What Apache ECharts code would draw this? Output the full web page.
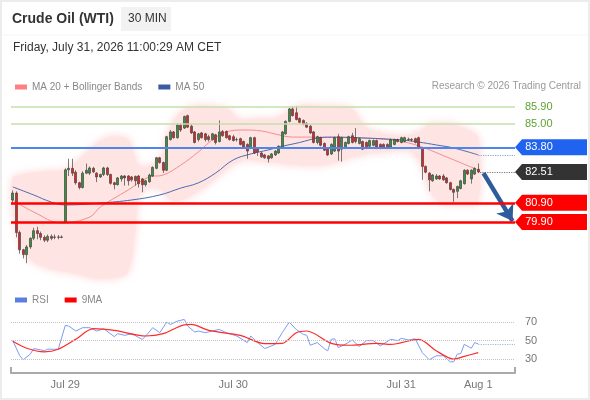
<!DOCTYPE html>
<html>
<head>
<meta charset="utf-8">
<title>Crude Oil (WTI)</title>
<script src="https://cdn.jsdelivr.net/npm/echarts@6/dist/echarts.min.js"></script>
<style>
html, body { margin: 0; padding: 0; background: #fff; }
#chart { width: 590px; height: 400px; }
</style>
</head>
<body>
<div id="chart"></div>
<script>
// 30 min candles, Jul 28 16:30 -> Jul 31 11:00 : [open, close, low, high]
var candles = [
    [81.05,81.41,80.9,81.55],[81.41,79.35,79.1,81.5],[79.35,78.45,78.25,79.45],[78.45,78.2,78.0,78.5],
    [78.2,78.6,77.75,78.7],[78.6,79.05,78.5,79.1],[79.05,79.45,78.95,79.6],[79.45,79.3,79.0,79.65],
    [79.3,79.1,78.95,79.4],[79.1,78.95,78.85,79.2],[78.95,79.15,78.85,79.25],[79.15,79.05,78.95,79.25],
    [79.1,79.12,79.0,79.25],[79.12,79.1,79.0,79.22],[79.1,79.12,79.05,79.2],[79.9,82.62,79.85,82.7],
    [82.62,82.7,82.3,83.2],[82.7,82.45,82.3,83.2],[82.5,81.95,81.85,82.6],[81.95,81.7,81.6,82.0],
    [81.7,82.45,81.65,82.55],[82.45,82.6,82.4,82.95],[82.45,82.72,82.35,82.8],[82.7,82.52,82.45,82.78],
    [82.45,82.25,81.98,82.5],[82.25,82.38,82.2,82.42],[82.38,82.72,82.3,82.78],[82.72,82.38,82.3,82.78],
    [82.38,81.92,81.85,82.42],[81.95,81.85,81.6,82.0],[81.85,82.2,81.8,82.25],[82.15,82.3,82.0,82.35],
    [82.3,82.2,81.8,82.35],[82.3,82.05,81.8,82.35],[82.25,82.1,82.0,82.3],[82.28,82.05,81.8,82.32],
    [82.3,81.9,81.7,82.35],[82.15,81.85,81.45,82.2],[81.85,82.05,81.75,82.1],[82.0,82.35,81.95,82.42],
    [82.3,82.75,82.25,82.8],[82.7,83.25,82.65,83.3],[83.25,83.0,82.95,83.3],[83.0,82.6,82.45,83.05],
    [82.6,84.35,82.55,84.4],[84.2,84.6,84.15,84.7],[84.6,84.3,84.25,84.65],[84.3,84.96,84.25,85.05],
    [84.95,84.7,84.6,85.05],[84.8,85.4,84.75,85.45],[85.45,84.85,84.8,85.5],[84.9,84.55,84.5,85.0],
    [84.6,84.05,84.0,84.65],[84.2,84.5,84.1,84.55],[84.55,84.3,84.25,84.6],[84.5,84.2,84.1,84.55],
    [84.35,84.2,84.1,84.45],[84.2,84.5,84.15,84.55],[84.45,84.05,83.95,84.5],[84.1,84.6,84.05,85.2],
    [84.62,84.4,84.35,84.7],[84.62,84.3,84.25,84.68],[84.4,84.2,84.15,84.45],[84.35,84.15,84.1,84.45],
    [84.2,84.2,84.1,84.3],[84.25,83.95,83.9,84.3],[84.1,83.8,83.75,84.15],[83.95,83.6,83.2,84.0],
    [83.75,84.3,83.7,84.35],[84.3,83.5,83.45,84.35],[83.75,83.55,83.35,83.8],[83.5,83.3,83.25,83.55],
    [83.4,83.25,83.2,83.45],[83.35,83.2,83.0,83.4],[83.25,83.45,83.2,83.5],[83.4,83.6,83.35,83.65],
    [83.5,83.85,83.45,83.9],[83.8,84.6,83.75,84.65],[84.5,85.15,84.45,85.2],[85.15,85.8,85.1,85.85],
    [85.8,85.45,85.4,85.95],[85.6,85.25,85.2,85.95],[85.3,85.1,85.05,85.35],[85.2,85.0,84.95,85.25],
    [85.05,84.85,84.8,85.1],[84.9,84.55,84.5,84.95],[84.6,84.05,84.0,84.65],[84.05,84.35,83.95,84.4],
    [84.3,83.9,83.85,84.35],[84.0,83.65,83.6,84.05],[83.75,83.4,83.35,83.8],[83.45,83.95,83.4,84.0],
    [83.6,84.3,83.55,84.35],[84.35,83.6,83.1,84.5],[83.7,84.3,83.05,84.35],[83.75,84.05,83.7,84.1],
    [84.0,84.35,83.95,84.4],[84.4,84.05,84.0,84.55],[84.3,84.1,84.0,84.8],[84.0,84.25,83.95,84.3],
    [84.1,83.7,83.65,84.15],[84.05,83.75,83.7,84.1],[83.85,84.15,83.8,84.2],[83.9,84.15,83.85,84.2],
    [84.15,83.75,83.7,84.2],[83.95,83.8,83.7,84.0],[83.95,83.8,83.75,84.0],[83.95,83.75,83.7,84.0],
    [83.8,84.2,83.75,84.25],[83.95,84.2,83.9,84.25],[84.2,84.1,84.05,84.25],[84.05,84.3,84.0,84.35],
    [84.1,84.3,84.05,84.35],[84.2,84.22,84.15,84.3],[84.2,84.18,84.1,84.28],[84.25,84.05,84.0,84.3],
    [84.3,83.75,83.7,84.35],[83.75,82.8,82.1,83.8],[82.8,82.5,82.45,82.85],[82.45,82.1,81.5,82.5],
    [82.05,82.35,82.0,82.4],[82.15,82.3,82.1,82.4],[82.3,82.15,82.1,82.35],[82.3,82.1,82.05,82.4],
    [82.2,81.95,81.9,82.25],[81.95,81.6,81.55,82.0],[81.6,81.45,80.95,81.65],[81.5,81.75,81.15,81.8],
    [81.65,82.05,81.6,82.1],[81.9,82.6,81.85,82.65],[82.6,82.4,82.35,82.65],[82.15,82.6,81.9,82.65],
    [82.4,82.7,82.35,82.75],[82.65,82.51,82.45,82.95]
];

var ma20X = [0,6,14,22,25,33,39,43,48,53,57,61,66,71,75,80,85,90,100,110,116,124,133];
var ma20 = [81.05,80.42,79.85,80.16,80.68,81.57,82.25,82.35,82.87,83.55,84.18,84.60,84.70,84.65,84.49,84.33,84.33,84.31,84.28,84.13,83.87,83.29,82.61];

// Bollinger bands
var bbX = [0,2,5,10,15,18,21,24,27,30,33,35,36,38,41,43,44,46,49,53,58,62,64,66,70,75,79,83,88,94,97,100,102,106,110,114,117,119,122,126,130,133];
var bbUp = [82.2,82.35,82.45,82.55,82.6,83.0,83.5,84.0,84.3,84.35,84.2,83.2,82.8,82.75,83.0,83.5,84.3,85.2,85.75,85.95,85.9,85.75,85.3,85.2,85.3,85.3,85.7,86.0,85.95,85.9,85.8,85.0,84.7,84.5,84.4,84.45,84.7,85.0,85.05,85.0,84.7,84.3];
var bbLow = [80.6,78.9,77.95,77.5,77.3,77.2,77.05,76.95,76.95,77.0,77.3,79.5,81.3,81.65,81.7,81.55,81.2,81.0,81.1,81.5,82.2,82.8,83.0,83.15,83.1,83.0,82.9,82.85,82.85,83.1,83.3,83.4,83.5,83.55,83.65,83.55,82.8,81.6,80.95,80.85,80.85,80.95];

// MA 50
var ma50X = [0,6,11,15,25,34,42,48,53,58,63,68,73,77,82,87,91,101,111,116,121,126,133];
var ma50 = [81.73,81.31,80.94,80.79,80.89,81.05,81.31,81.67,81.94,82.46,83.14,83.45,83.66,83.85,84.05,84.28,84.33,84.28,84.18,84.07,83.92,83.76,83.40];

// RSI and its 9 period MA
var rsiX = [0,2,3,5,6,8,9,10,12,13,15,16,18,20,22,24,26,29,30,32,34,37,38,40,42,44,45,47,49,50,52,53,55,59,61,64,67,68,70,72,75,77,79,81,83,84,85,87,89,90,91,92,93,95,97,99,101,103,105,108,110,111,113,115,117,119,121,123,125,126,127,128,129,131,132,133];
var rsi = [50,33.6,29.3,35.4,41.4,40,39,40.7,40.7,40.7,66.4,65.7,60.4,64,64,60.4,62.9,54.3,57.5,55.7,57.5,51.4,55,64,58.6,70,67.5,71,72.9,65.7,59.3,60.4,58.6,62.1,58.6,55,47.9,55,47.9,41.4,46,58.6,70,62,56.8,55.7,45,47.9,41.4,39,51.4,52,42.5,46,50.7,43.6,50,50,44.3,51.4,50,52.5,50.7,52,37.1,29.3,33.6,33.6,27.1,27.1,35.4,36,46,41.8,47.9,46.4];
var rsiMaX = [0,4,9,13,18,23,29,38,43,49,51,56,65,72,77,81,84,91,96,104,108,116,121,126,129,133];
var rsiMa = [49.3,41.8,37.9,40.7,51.4,62.9,61,55,57.5,67.1,67.5,61,55.7,46.8,47.1,58.6,60.4,47.1,45,47.1,46,51.4,39,30,32.9,37.1];

// levels / labels
var resistances = [85.90, 85.00];
var pivot = 83.80;
var lastPrice = 82.51;
var supports = [80.90, 79.90];
var rsiLevels = [70, 50, 30];
var xLabels = ['Jul 29', 'Jul 30', 'Jul 31', 'Aug 1'];
var xLabelIdx = [15, 63, 111, 133];
var trendArrow = [[134.5, 82.45], [142.8, 79.95]];

var FONT = '"Liberation Sans", Arial, Helvetica, sans-serif';
var nSlots = 144;
var lastIdx = candles.length - 1;

var slots = [];
for (var s = 0; s < nSlots; s++) slots.push(String(s));

function pairs(xs, ys) {
    var out = [];
    for (var k = 0; k < xs.length; k++) out.push([xs[k], ys[k]]);
    return out;
}

function tag(value, color) {
    return {
        coord: [nSlots - 0.5, value],
        itemStyle: { color: color },
        label: { formatter: value.toFixed(2) }
    };
}

var chart = echarts.init(document.getElementById('chart'));

var levelLines = [];
resistances.forEach(function (v) {
    levelLines.push({
        yAxis: v,
        lineStyle: { color: '#c4dfab', width: 1.5, type: 'solid' },
        label: { show: true, position: 'end', distance: 10, formatter: v.toFixed(2), color: '#5ea331', fontSize: 11, fontFamily: FONT }
    });
});
levelLines.push({ yAxis: pivot, lineStyle: { color: '#4f86ec', width: 2, type: 'solid' }, label: { show: false } });
supports.forEach(function (v) {
    levelLines.push({ yAxis: v, lineStyle: { color: '#ff0000', width: 2.6, type: 'solid' }, label: { show: false } });
});

var option = {
    animation: false,
    backgroundColor: '#fff',
    textStyle: { fontFamily: FONT },
    graphic: [
        { type: 'rect', silent: true, shape: { x: 1, y: 1, width: 588, height: 398 }, style: { fill: 'none', stroke: '#ececec', lineWidth: 2 } },
        { type: 'line', silent: true, shape: { x1: 2, y1: 35, x2: 588, y2: 35 }, style: { stroke: '#f5f5f5', lineWidth: 1 } },
        { type: 'text', left: 12, top: 12, style: { text: 'Crude Oil (WTI)', font: 'bold 14px ' + FONT, fill: '#333' } },
        { type: 'rect', silent: true, shape: { x: 121, y: 7, width: 50, height: 24 }, style: { fill: '#f2f2f2' } },
        { type: 'text', left: 128, top: 13, style: { text: '30 MIN', font: '12px ' + FONT, fill: '#333' } },
        { type: 'text', left: 13, top: 42, style: { text: 'Friday, July 31, 2026 11:00:29 AM CET', font: '12px ' + FONT, fill: '#333' } },
        { type: 'text', right: 9, top: 81, style: { text: 'Research \u00a9 2026 Trading Central', font: '10px ' + FONT, fill: '#999' } }
    ],
    legend: [
        {
            data: ['MA 20 + Bollinger Bands', 'MA 50'],
            left: 10, top: 77, icon: 'rect', itemWidth: 12, itemHeight: 5, itemGap: 16,
            selectedMode: false,
            textStyle: { color: '#888', fontSize: 10, fontFamily: FONT }
        },
        {
            data: ['RSI', '9MA'],
            left: 10, top: 290, icon: 'rect', itemWidth: 12, itemHeight: 5, itemGap: 16,
            selectedMode: false,
            textStyle: { color: '#888', fontSize: 10, fontFamily: FONT }
        }
    ],
    grid: [
        { left: 11, width: 504, top: 89.75, height: 195.5 },
        { left: 11, width: 504, top: 308.25, height: 64.75 }
    ],
    xAxis: [
        { type: 'category', gridIndex: 0, data: slots, boundaryGap: true, show: false },
        { type: 'value', gridIndex: 0, min: -0.5, max: nSlots - 0.5, show: false },
        {
            type: 'value', gridIndex: 1, min: -0.5, max: nSlots - 0.5,
            axisLine: { show: true, lineStyle: { color: '#aaa', width: 2 } },
            axisTick: { show: true, inside: true, length: 6, customValues: [-0.5, nSlots - 0.5], lineStyle: { color: '#aaa', width: 2 } },
            axisLabel: {
                show: true, customValues: xLabelIdx, margin: 6, color: '#777', fontSize: 11, fontFamily: FONT,
                formatter: function (v) { var k = xLabelIdx.indexOf(v); return k >= 0 ? xLabels[k] : ''; }
            },
            splitLine: { show: false }
        }
    ],
    yAxis: [
        { type: 'value', gridIndex: 0, min: 76.6, max: 86.8, show: false },
        { type: 'value', gridIndex: 1, min: 15, max: 85, show: false }
    ],
    series: [
        {
            type: 'custom', name: 'band', xAxisIndex: 1, yAxisIndex: 0, silent: true, z: 1,
            data: bbX.map(function (x, k) { return [x, bbUp[k], bbLow[k]]; }),
            encode: { x: 0, y: [1, 2] },
            renderItem: function (params, api) {
                if (params.dataIndex !== 0) return null;
                var pts = [];
                for (var k = 0; k < bbX.length; k++) pts.push(api.coord([bbX[k], bbUp[k]]));
                for (var j = bbX.length - 1; j >= 0; j--) pts.push(api.coord([bbX[j], bbLow[j]]));
                return {
                    type: 'polygon',
                    shape: { points: pts, smooth: 0.35 },
                    style: { fill: '#ffe4e4', shadowBlur: 8, shadowColor: 'rgba(255,180,180,0.6)' }
                };
            }
        },
        {
            type: 'line', name: 'MA 20 + Bollinger Bands', xAxisIndex: 1, yAxisIndex: 0, z: 2,
            data: pairs(ma20X, ma20), smooth: 0.4, symbol: 'none', silent: true,
            color: '#ff8080', lineStyle: { color: '#f58c8c', width: 1 }
        },
        {
            type: 'line', name: 'MA 50', xAxisIndex: 1, yAxisIndex: 0, z: 2,
            data: pairs(ma50X, ma50), smooth: 0.4, symbol: 'none', silent: true,
            color: '#3a5ca0', lineStyle: { color: '#4a6cb0', width: 1 },
            markLine: {
                silent: true, symbol: ['none', 'none'], label: { show: false },
                data: [
                    [{ coord: [ma50X[ma50X.length - 1], ma50[ma50.length - 1]], lineStyle: { color: '#8ea2cf', width: 1.2, type: 'dotted' } },
                     { coord: [nSlots - 0.5, ma50[ma50.length - 1]] }],
                    [{ coord: [lastIdx + 0.5, lastPrice], lineStyle: { color: '#777', width: 1.2, type: 'dotted' } },
                     { coord: [nSlots - 0.5, lastPrice] }],
                    [{ coord: trendArrow[0], symbol: 'none', lineStyle: { color: '#2d5b9c', width: 4.5, type: 'solid' } },
                     { coord: trendArrow[1], symbol: 'arrow', symbolSize: [15, 15] }]
                ]
            },
            markPoint: {
                silent: true,
                symbol: 'path://M0,8L7,0L72,0L72,16L7,16Z',
                symbolSize: [72, 16],
                symbolKeepAspect: false,
                symbolOffset: [36, 0],
                label: { show: true, position: 'inside', offset: [-12, 0], color: '#fff', fontSize: 11, fontFamily: FONT },
                data: [
                    tag(pivot, '#1f63ee'),
                    tag(lastPrice, '#333333'),
                    tag(supports[0], '#ff0000'),
                    tag(supports[1], '#ff0000')
                ]
            }
        },
        {
            type: 'candlestick', name: 'WTI', xAxisIndex: 0, yAxisIndex: 0, z: 3,
            data: candles, barWidth: '80%', silent: true,
            itemStyle: {
                color: '#37923a', color0: '#e02424',
                borderColor: '#444', borderColor0: '#444', borderWidth: 0.7
            },
            markLine: {
                silent: true, symbol: ['none', 'none'],
                data: levelLines
            }
        },
        {
            type: 'line', name: 'RSI', xAxisIndex: 2, yAxisIndex: 1,
            data: pairs(rsiX, rsi), symbol: 'none', silent: true,
            color: '#5b7fe0', lineStyle: { color: '#7b9cf2', width: 1 },
            markLine: {
                silent: true, symbol: ['none', 'none'],
                label: { show: true, position: 'end', distance: 10, color: '#777', fontSize: 11, fontFamily: FONT, formatter: '{c}' },
                lineStyle: { color: '#c2c2c2', width: 1, type: 'dotted' },
                data: rsiLevels.map(function (v) { return { yAxis: v }; }).concat([
                    [{ coord: [rsiX[rsiX.length - 1], rsi[rsi.length - 1]], label: { show: false }, lineStyle: { color: '#9fb5ee', width: 1.2, type: 'dotted' } },
                     { coord: [nSlots - 0.5, rsi[rsi.length - 1]] }]
                ])
            }
        },
        {
            type: 'line', name: '9MA', xAxisIndex: 2, yAxisIndex: 1,
            data: pairs(rsiMaX, rsiMa), smooth: 0.3, symbol: 'none', silent: true,
            color: '#ff0000', lineStyle: { color: '#ff2a2a', width: 1.2 }
        }
    ]
};

chart.setOption(option);
window.onresize = chart.resize;
</script>
</body>
</html>
